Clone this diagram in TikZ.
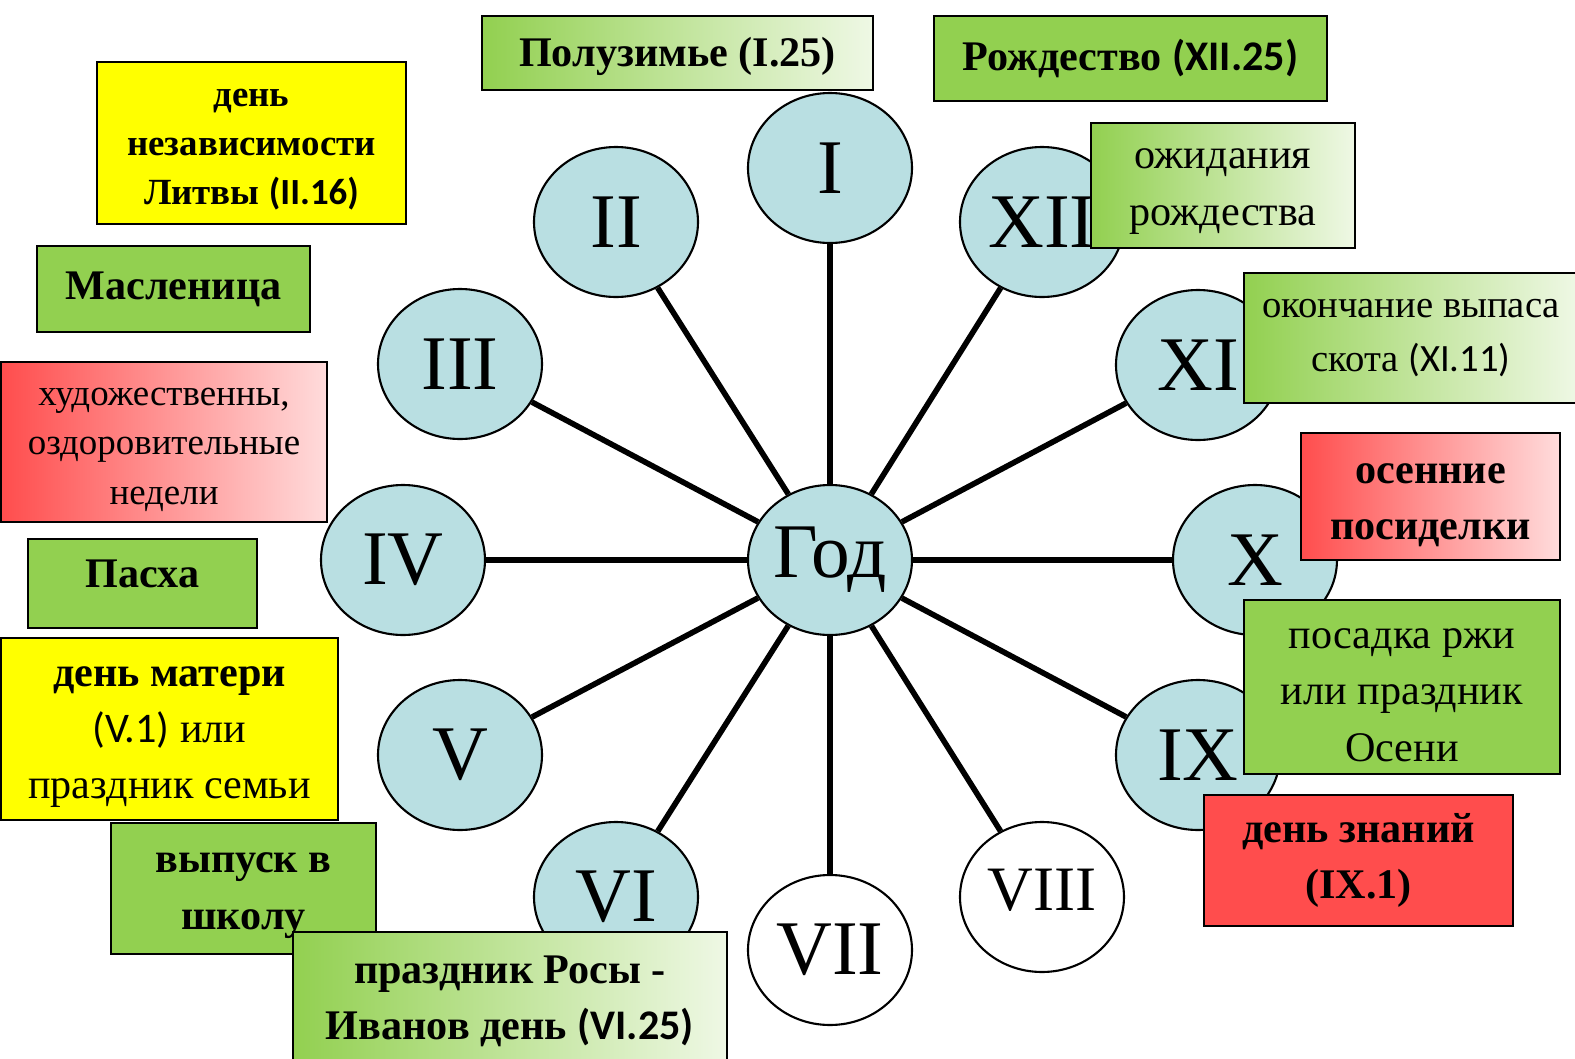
\documentclass[tikz,border=0pt]{standalone}
\usepackage{fontspec}
\setmainfont{Liberation Serif}
\newfontfamily\calfont{Carlito}
\usetikzlibrary{shapes.geometric}

\definecolor{monthblue}{RGB}{185,223,226}
\definecolor{evgreen}{RGB}{146,208,80}
\definecolor{evred}{RGB}{255,77,77}
\definecolor{evyellow}{RGB}{255,255,0}

% invisible strut that pushes a text block down
\newcommand{\evstrut}[1]{\rule{0pt}{#1}}

\begin{document}
\begin{tikzpicture}[
  month/.style={ellipse, draw, line width=0.6pt, fill=monthblue, minimum width=1.64cm, minimum height=1.5cm, inner sep=0pt, font=\fontsize{22}{22}\selectfont},
  spoke/.style={line width=1.6pt},
  evbox/.style={draw, line width=0.6pt, inner sep=0pt, align=center, font=\fontsize{12}{16}\selectfont},
  smalltext/.style={font=\fontsize{10.5}{14}\selectfont},
  greenbox/.style={evbox, fill=evgreen},
  greenfade/.style={evbox, left color=evgreen, right color=evgreen!15},
  redbox/.style={evbox, fill=evred},
  redfade/.style={evbox, left color=evred, right color=evred!20},
  yellowbox/.style={evbox, fill=evyellow}
]
\useasboundingbox (0,0) rectangle (15.75,-10.59);

% The year and the months
\node[month] (god) at (8.30,-5.60) {Год};
\node[month] (m1) at (8.30,-1.68) {I};
\node[month] (m2) at (6.16,-2.22) {II};
\node[month] (m3) at (4.60,-3.64) {III};
\node[month] (m4) at (4.03,-5.60) {IV};
\node[month] (m5) at (4.60,-7.55) {V};
\node[month] (m6) at (6.16,-8.97) {VI};
\node[month, fill=white] (m7) at (8.30,-9.50) {VII};
\node[month, fill=white, font=\fontsize{18}{18}\selectfont, text depth=0.14cm] (m8) at (10.42,-8.97) {VIII};
\node[month] (m9) at (11.98,-7.55) {IX};
\node[month] (m10) at (12.55,-5.60) {X};
\node[month] (m11) at (11.98,-3.65) {XI};
\node[month] (m12) at (10.42,-2.22) {XII};

% Spokes
\draw[spoke] (god) -- (m1);
\draw[spoke] (god) -- (m2);
\draw[spoke] (god) -- (m3);
\draw[spoke] (god) -- (m4);
\draw[spoke] (god) -- (m5);
\draw[spoke] (god) -- (m6);
\draw[spoke] (god) -- (m7);
\draw[spoke] (god) -- (m8);
\draw[spoke] (god) -- (m9);
\draw[spoke] (god) -- (m10);
\draw[spoke] (god) -- (m11);
\draw[spoke] (god) -- (m12);

% Holidays, top
\node[greenfade, minimum width=3.91cm, minimum height=0.74cm, text depth=0.03cm] (poluzim) at (6.775,-0.53) {\textbf{Полузимье (I.25)}};
\node[greenbox, minimum width=3.93cm, minimum height=0.85cm] (rozhd) at (11.305,-0.585) {\textbf{Рождество {\calfont (XII.25)}}};
\node[yellowbox, smalltext, minimum width=3.09cm, minimum height=1.62cm] (litva) at (2.515,-1.43) {\evstrut{0.31cm}\textbf{день}\\ \textbf{независимости}\\ \textbf{Литвы {\calfont (II.16)}}};

% Holidays, left
\node[greenbox, minimum width=2.73cm, minimum height=0.86cm] (maslen) at (1.735,-2.89) {\textbf{Масленица}};
\node[redfade, smalltext, minimum width=3.26cm, minimum height=1.60cm] (nedeli) at (1.64,-4.42) {\evstrut{0.33cm}художественны,\\ оздоровительные\\ недели};
\node[greenbox, minimum width=2.29cm, minimum height=0.89cm, text depth=0.2cm] (pasha) at (1.425,-5.835) {\textbf{Пасха}};
\node[yellowbox, minimum width=3.37cm, minimum height=1.82cm] (mater) at (1.695,-7.29) {\evstrut{0.36cm}\textbf{день матери}\\ {\calfont (V.1)} или\\ праздник семьи};
\node[greenbox, minimum width=2.65cm, minimum height=1.31cm] (vypusk) at (2.435,-8.885) {\evstrut{0.34cm}\textbf{выпуск в}\\ \textbf{школу}};
\node[greenfade, minimum width=4.34cm, minimum height=1.28cm] (rosa) at (5.10,-9.96) {\evstrut{0.38cm}\textbf{праздник Росы -}\\ \textbf{Иванов день {\calfont (VI.25)}}};

% Holidays, right
\node[greenfade, minimum width=2.64cm, minimum height=1.25cm] (ozhid) at (12.23,-1.855) {\evstrut{0.32cm}ожидания\\ рождества};
\node[greenfade, font=\fontsize{11}{15.5}\selectfont, minimum width=3.34cm, minimum height=1.30cm] (vypas) at (14.11,-3.38) {окончание выпаса\\ скота {\calfont (XI.11)}};
\node[redfade, minimum width=2.59cm, minimum height=1.27cm] (posid) at (14.305,-4.965) {\evstrut{0.38cm}\textbf{осенние}\\ \textbf{посиделки}};
\node[greenbox, minimum width=3.16cm, minimum height=1.74cm] (rozh) at (14.02,-6.87) {\evstrut{0.36cm}посадка ржи\\ или праздник\\ Осени};
\node[redbox, minimum width=3.09cm, minimum height=1.31cm] (znanij) at (13.585,-8.605) {\textbf{день знаний}\\ \textbf{(IX.1)}};

\end{tikzpicture}
\end{document}
